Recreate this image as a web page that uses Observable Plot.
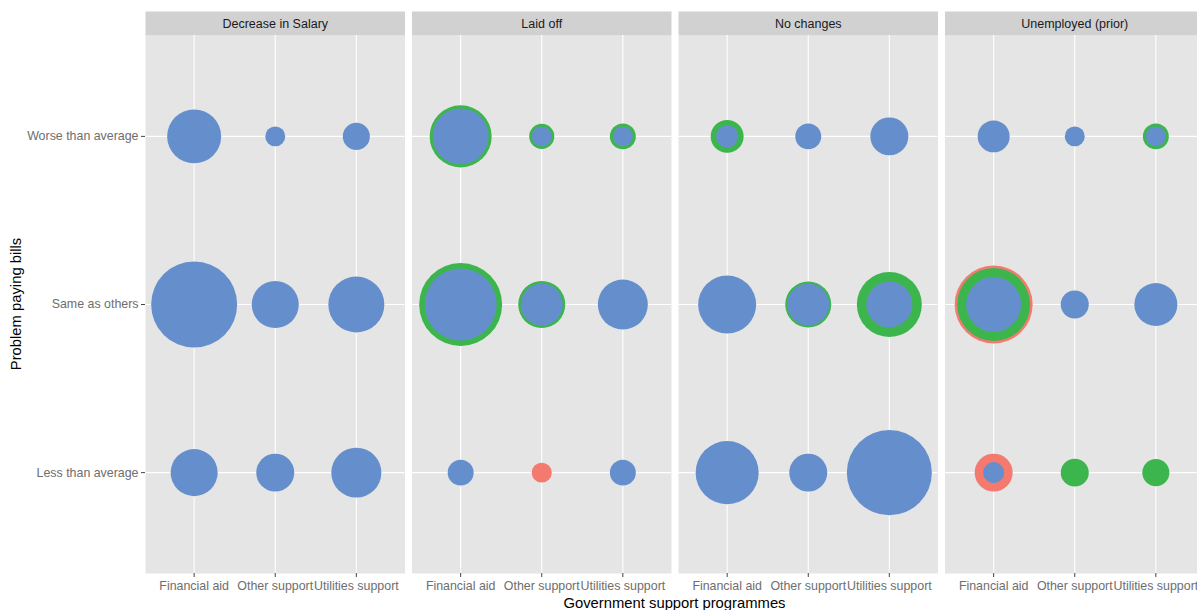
<!DOCTYPE html>
<html>
<head>
<meta charset="utf-8">
<script src="https://cdn.jsdelivr.net/npm/d3@7"></script>
<script src="https://cdn.jsdelivr.net/npm/@observablehq/plot@0.6"></script>
<style>
  html, body { margin: 0; padding: 0; background: #fff; }
  #wrap { width: 1197px; height: 610px; overflow: hidden; position: relative; }
  svg { overflow: hidden; }
</style>
</head>
<body>
<div id="wrap"></div>
<script>
// Facets, categories and groups
const panels = ["Decrease in Salary", "Laid off", "No changes", "Unemployed (prior)"];
const programmes = ["Financial aid", "Other support", "Utilities support"];
const problems = ["Worse than average", "Same as others", "Less than average"];
const groups = ["Group 1", "Group 2", "Group 3"];
const groupColors = ["#F47A70", "#3CB64C", "#648FCC"];

// Values per group: for each panel, for each problem (Worse, Same, Less), for each programme (FA, OS, US)
const group1Values = [
  null, null, null,   null, null, null,   null, null, null,
  null, null, null,   null, null, null,   null, 5.4, null,
  null, null, null,   null, null, null,   null, null, null,
  null, null, null,   82.3, null, null,   19.5, null, null
];
const group2Values = [
  null, null, null,   null, null, null,   null, null, null,
  52.0, 8.5, 9.1,     93.1, 29.9, null,   null, null, null,
  14.7, null, null,   null, 28.6, 57.1,   null, null, null,
  null, null, 9.1,    72.0, null, null,   null, 10.6, 9.9
];
const group3Values = [
  39.4, 5.4, 9.9,     100, 29.9, 42.4,    29.9, 19.5, 33.8,
  42.4, 5.4, 5.4,     70.1, 23.9, 33.8,   9.1, null, 9.1,
  6.5, 9.1, 19.5,     45.5, 23.9, 28.6,   53.7, 19.5, 97.7,
  13.8, 5.4, 5.4,     40.9, 10.6, 25.0,   6.0, null, null
];

const seriesValues = [group1Values, group2Values, group3Values];
const rows = [];
groups.forEach((g, gi) => {
  const vals = seriesValues[gi];
  panels.forEach((p, pi) => {
    problems.forEach((pr, ri) => {
      programmes.forEach((pg, ci) => {
        const v = vals[pi * 9 + ri * 3 + ci];
        if (v != null) rows.push({panel: p, problem: pr, programme: pg, group: g, value: v});
      });
    });
  });
});

const W = 1197, H = 610;
const mL = 145, mR = -7, mT = 35, mB = 37;
const panelH = H - mT - mB;
const font = "'Liberation Sans', Arial, Helvetica, sans-serif";

const chart = Plot.plot({
  width: W,
  height: H,
  marginLeft: mL,
  marginRight: mR,
  marginTop: mT,
  marginBottom: mB,
  style: {fontFamily: font, fontSize: "12.4px", background: "#fff", overflow: "hidden"},
  fx: {domain: panels, paddingInner: 0.0263, paddingOuter: 0, round: false, axis: null},
  x: {domain: programmes, padding: 0.6, round: false, axis: null},
  y: {domain: problems, padding: 0.6, round: false, axis: null},
  r: {type: "sqrt", domain: [0, 100], range: [0, 43]},
  color: {domain: groups, range: groupColors},
  marks: [
    Plot.frame({fill: "#E5E5E5"}),
    Plot.frame({fill: "#D1D1D1", insetTop: -24, insetBottom: panelH}),
    Plot.gridX({stroke: "#fff", strokeOpacity: 1, strokeWidth: 1.1}),
    Plot.gridY({stroke: "#fff", strokeOpacity: 1, strokeWidth: 1.1}),
    Plot.dot(rows, {fx: "panel", x: "programme", y: "problem", r: "value", fill: "group", sort: null}),
    Plot.text(panels, {fx: d => d, text: d => d, frameAnchor: "top", dy: -16, fontSize: 12.5, fill: "#1A1A1A"}),
    Plot.axisX({anchor: "bottom", tickSize: 4, tickPadding: 4, fontSize: 12.4, color: "#6E6E6E", stroke: "#444", label: null}),
    Plot.axisY({anchor: "left", tickSize: 4, tickPadding: 3, fontSize: 12.4, color: "#6E6E6E", stroke: "#444", label: null})
  ]
});

document.getElementById("wrap").appendChild(chart);

// Axis titles
const svg = d3.select(chart);
svg.append("text")
  .attr("x", (mL + W - mR) / 2)
  .attr("y", H - 2)
  .attr("text-anchor", "middle")
  .attr("font-family", font)
  .attr("font-size", 14.8)
  .attr("fill", "#000")
  .text("Government support programmes");
svg.append("text")
  .attr("transform", `translate(${21},${mT + panelH / 2}) rotate(-90)`)
  .attr("text-anchor", "middle")
  .attr("font-family", font)
  .attr("font-size", 14.8)
  .attr("fill", "#000")
  .text("Problem paying bills");
</script>
</body>
</html>
